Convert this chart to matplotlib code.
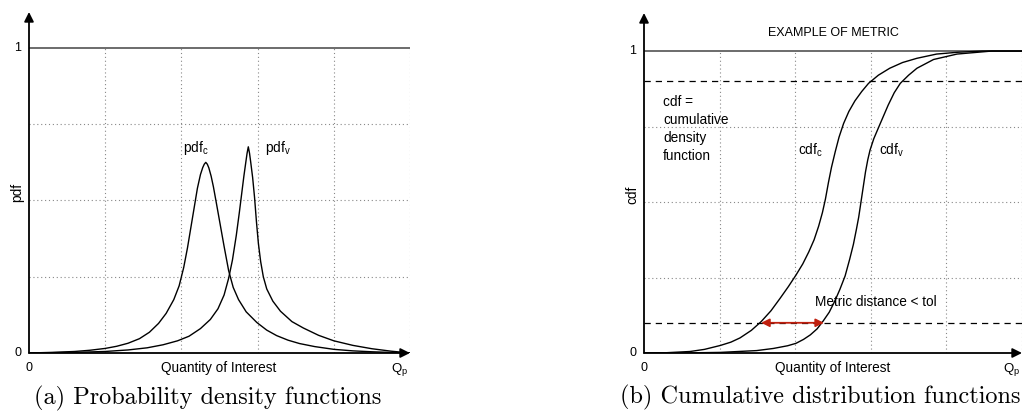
import matplotlib.pyplot as plt

plt.rcParams["font.family"] = ["Liberation Sans", "DejaVu Sans"]

# pdf curves
pdf_c_x = [0, 0.3, 0.6, 0.8, 1.0, 1.15, 1.3, 1.45, 1.58, 1.7, 1.8, 1.9, 1.97, 2.03,
           2.08, 2.13, 2.17, 2.21, 2.25, 2.28, 2.30, 2.32, 2.34, 2.36, 2.39, 2.42,
           2.46, 2.51, 2.56, 2.62, 2.68, 2.75, 2.85, 2.99, 3.12, 3.25, 3.4, 3.55, 3.75,
           4.0, 4.25, 4.5, 4.8, 5.0]
pdf_c_y = [0, 0.002, 0.005, 0.009, 0.015, 0.022, 0.032, 0.047, 0.068, 0.097, 0.13,
           0.175, 0.22, 0.28, 0.345, 0.42, 0.48, 0.54, 0.585, 0.608, 0.619, 0.625,
           0.619, 0.607, 0.58, 0.545, 0.49, 0.42, 0.35, 0.27, 0.215, 0.175, 0.135,
           0.1, 0.075, 0.057, 0.042, 0.031, 0.021, 0.012, 0.007, 0.004, 0.0015, 0]
pdf_v_x = [0, 0.6, 1.0, 1.3, 1.55, 1.76, 1.95, 2.1, 2.25, 2.38, 2.48, 2.56, 2.62, 2.67,
           2.72, 2.76, 2.79, 2.82, 2.845, 2.862, 2.878, 2.894, 2.91, 2.935, 2.96,
           2.985, 3.01, 3.04, 3.075, 3.12, 3.2, 3.3, 3.45, 3.6, 3.8, 4.0, 4.25, 4.5,
           4.75, 5.0]
pdf_v_y = [0, 0.002, 0.005, 0.01, 0.017, 0.027, 0.04, 0.055, 0.08, 0.11, 0.145, 0.19,
           0.245, 0.305, 0.385, 0.46, 0.52, 0.58, 0.625, 0.655, 0.676, 0.655, 0.625,
           0.575, 0.51, 0.43, 0.36, 0.3, 0.25, 0.21, 0.17, 0.137, 0.103, 0.082, 0.058,
           0.04, 0.025, 0.014, 0.006, 0]

# cdf curves
cdf_c_x = [0, 0.3, 0.61, 0.8, 1.01, 1.15, 1.27, 1.42, 1.55, 1.68, 1.80, 1.91, 2.01,
           2.1, 2.18, 2.25, 2.31, 2.36, 2.40, 2.44, 2.48, 2.53, 2.58, 2.64, 2.71, 2.79,
           2.88, 2.97, 3.1, 3.25, 3.42, 3.61, 3.87, 4.15, 4.48, 5.0]
cdf_c_y = [0, 0.001, 0.005, 0.012, 0.025, 0.036, 0.05, 0.075, 0.104, 0.14, 0.181, 0.22,
           0.258, 0.295, 0.335, 0.375, 0.42, 0.465, 0.51, 0.565, 0.615, 0.667, 0.715,
           0.76, 0.80, 0.835, 0.866, 0.893, 0.92, 0.943, 0.962, 0.976, 0.99, 0.996,
           1.0, 1.0]
cdf_v_x = [0, 0.6, 1.01, 1.49, 1.71, 1.9, 2.01, 2.11, 2.2, 2.29, 2.37, 2.45, 2.52, 2.59,
           2.66, 2.72, 2.77, 2.81, 2.84, 2.87, 2.90, 2.93, 2.96, 2.99, 3.04, 3.12,
           3.23, 3.31, 3.39, 3.5, 3.61, 3.83, 4.14, 4.6, 5.0]
cdf_v_y = [0, 0.0005, 0.002, 0.008, 0.015, 0.024, 0.032, 0.045, 0.06, 0.08, 0.106,
           0.135, 0.17, 0.21, 0.255, 0.31, 0.36, 0.41, 0.45, 0.50, 0.55, 0.6, 0.64,
           0.672, 0.71, 0.757, 0.821, 0.862, 0.893, 0.92, 0.943, 0.972, 0.99, 1.0, 1.0]

tol_levels = [0.1, 0.9]
metric_span = [1.55, 2.38]

grid_x = [1, 2, 3, 4, 5]
grid_y = [0.25, 0.5, 0.75]

fig = plt.figure(figsize=(10.23, 4.12), dpi=100)
ax1 = fig.add_axes([29 / 1023, 59 / 412, 381 / 1023, 341 / 412])
ax2 = fig.add_axes([644 / 1023, 59 / 412, 378 / 1023, 340 / 412])


def frame(ax, ylab, top, caption, cap_x):
    ax.set_xlim(0, 5)
    ax.set_ylim(0, top)
    for s in ax.spines.values():
        s.set_visible(False)
    ax.set_xticks([])
    ax.set_yticks([])
    dot = dict(color="#888888", lw=0.8, ls=(0, (1, 2.5)))
    for gx in grid_x:
        ax.plot([gx, gx], [0, 1], **dot)
    for gy in grid_y:
        ax.plot([0, 5], [gy, gy], **dot)
    ax.plot([0, 5], [1, 1], color="#444444", lw=1.1)
    ax.annotate("", xy=(0, top), xytext=(0, 0), annotation_clip=False,
                arrowprops=dict(arrowstyle="-|>", color="k", lw=1.3, mutation_scale=14,
                                shrinkA=0, shrinkB=0))
    ax.annotate("", xy=(5, 0), xytext=(0, 0), annotation_clip=False,
                arrowprops=dict(arrowstyle="-|>", color="k", lw=1.3, mutation_scale=14,
                                shrinkA=0, shrinkB=0))
    ax.text(-0.1, 1, "1", ha="right", va="center", fontsize=9)
    ax.text(-0.1, 0, "0", ha="right", va="center", fontsize=9)
    ax.text(0, -0.05, "0", ha="center", va="center", fontsize=9)
    ax.text(4.86, -0.055, r"Q$_\mathregular{p}$", ha="center", va="center", fontsize=9.5)
    ax.text(2.49, -0.05, "Quantity of Interest", ha="center", va="center", fontsize=9.8)
    ax.text(-0.16, 0.525, ylab, rotation=90, ha="center", va="center", fontsize=9.8)
    ax.text(cap_x, -0.148, caption, ha="center", va="center", fontsize=17.5,
            family="cmr10")


frame(ax1, "pdf", 1.118, "(a) Probability density functions", 2.35)
frame(ax2, "cdf", 1.126, "(b) Cumulative distribution functions", 2.33)

ax1.plot(pdf_c_x, pdf_c_y, color="k", lw=1.0)
ax1.plot(pdf_v_x, pdf_v_y, color="k", lw=1.0)
ax1.text(2.02, 0.672, r"pdf$_\mathregular{c}$", ha="left", va="center", fontsize=9.8)
ax1.text(3.10, 0.672, r"pdf$_\mathregular{v}$", ha="left", va="center", fontsize=9.8)

for lv in tol_levels:
    ax2.plot([0, 5], [lv, lv], color="k", lw=0.9, ls=(0, (5, 4)))
ax2.plot(cdf_c_x, cdf_c_y, color="k", lw=1.0)
ax2.plot(cdf_v_x, cdf_v_y, color="k", lw=1.0)
ax2.annotate("", xy=(metric_span[1], 0.1), xytext=(metric_span[0], 0.1),
             arrowprops=dict(arrowstyle="<|-|>", color="#c0200f", lw=1.3,
                             mutation_scale=12, shrinkA=0, shrinkB=0))
ax2.text(2.04, 0.672, r"cdf$_\mathregular{c}$", ha="left", va="center", fontsize=9.8)
ax2.text(3.11, 0.672, r"cdf$_\mathregular{v}$", ha="left", va="center", fontsize=9.8)
ax2.text(2.50, 1.06, "EXAMPLE OF METRIC", ha="center", va="center", fontsize=9)
ax2.text(0.25, 0.855, "cdf =\ncumulative\ndensity\nfunction", ha="left", va="top",
         fontsize=9.8, linespacing=1.37)
ax2.text(2.26, 0.169, "Metric distance < tol", ha="left", va="center", fontsize=9.8)

fig.savefig("out.png", dpi=100)
